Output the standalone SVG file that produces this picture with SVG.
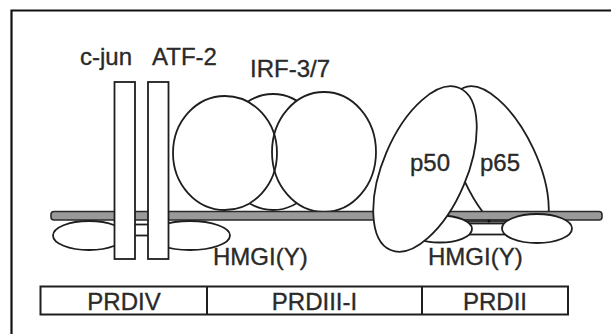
<svg xmlns="http://www.w3.org/2000/svg" width="611" height="334" viewBox="0 0 611 334">
<style>
.ln{fill:#fff;stroke:#1e1e1e;stroke-width:1.8}
.no{fill:none;stroke:#1e1e1e;stroke-width:1.8}
.wf{fill:#fff;stroke:none}
.t{font-family:"Liberation Sans",Arial,sans-serif;font-size:24px;fill:#2a2a2a;stroke:#2a2a2a;stroke-width:0.35}
.c{text-anchor:middle}
</style>
<defs>
<clipPath id="aboveDNA"><rect x="380" y="0" width="231" height="212"/></clipPath>
</defs>
<rect x="0" y="0" width="611" height="334" fill="#fff"/>
<path d="M11.5 334 V10.5 H611" fill="none" stroke="#111" stroke-width="2.2"/>

<g id="p65">
<g clip-path="url(#aboveDNA)">
<ellipse class="ln" cx="499" cy="165" rx="38" ry="85" transform="rotate(-25 499 165)"/>
</g>
<text class="t" x="480" y="171">p65</text>
</g>

<g id="irf">
<ellipse class="ln" cx="273" cy="152" rx="50" ry="58"/>
<ellipse class="wf" cx="225" cy="153" rx="52" ry="57"/>
<ellipse class="wf" cx="324" cy="152" rx="52" ry="60"/>
<ellipse class="no" cx="225" cy="153" rx="52" ry="57"/>
<ellipse class="no" cx="324" cy="152" rx="52" ry="60"/>
<text class="t" x="250" y="77">IRF-3/7</text>
</g>

<g id="dna">
<rect x="51" y="211.5" width="551" height="8.5" rx="3" fill="#9a9a9a" stroke="#2a2a2a" stroke-width="1.6"/>
</g>

<g id="hmgi-left">
<rect class="ln" x="118" y="224.5" width="40" height="11"/>
<ellipse class="ln" cx="89" cy="235.5" rx="36" ry="14.5"/>
<ellipse class="ln" cx="190" cy="235.5" rx="40" ry="14.5"/>
<text class="t" x="213" y="265">HMGI(Y)</text>
</g>

<g id="hmgi-right">
<rect x="455" y="219" width="52" height="3.5" fill="#333"/>
<rect class="ln" x="466" y="223.5" width="40" height="11"/>
<ellipse class="ln" cx="440" cy="229" rx="32" ry="13.5"/>
<ellipse class="ln" cx="537" cy="228.5" rx="35" ry="14.5"/>
<circle cx="489" cy="221" r="1.5" fill="#111"/>
<text class="t" x="428" y="265">HMGI(Y)</text>
</g>

<g id="c-jun">
<rect class="ln" x="114.5" y="82" width="20.5" height="177"/>
<text class="t" x="80" y="65">c-jun</text>
</g>
<g id="atf-2">
<rect class="ln" x="148" y="82" width="20.5" height="177"/>
<text class="t" x="152" y="65">ATF-2</text>
</g>

<g id="p50">
<ellipse class="ln" cx="425" cy="169" rx="42" ry="88" transform="rotate(23 425 169)"/>
<text class="t" x="410" y="171">p50</text>
</g>

<g id="prd">
<rect x="40.5" y="286.5" width="527.5" height="28" fill="#fff" stroke="#1e1e1e" stroke-width="2"/>
<line x1="207" y1="286.5" x2="207" y2="314.5" stroke="#1e1e1e" stroke-width="2"/>
<line x1="422" y1="286.5" x2="422" y2="314.5" stroke="#1e1e1e" stroke-width="2"/>
<text class="t c" x="124" y="310">PRDIV</text>
<text class="t c" x="314.5" y="310">PRDIII-I</text>
<text class="t c" x="495" y="310">PRDII</text>
</g>
</svg>
